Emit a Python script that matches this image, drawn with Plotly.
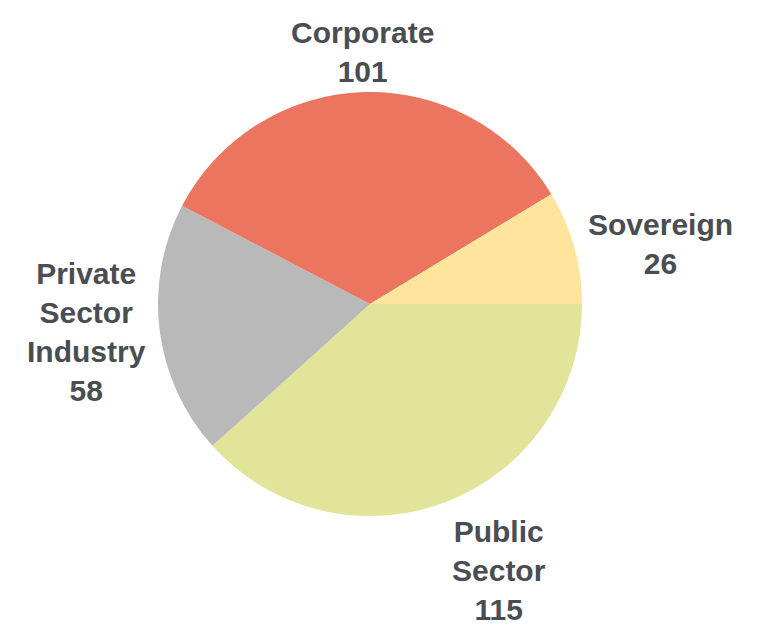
import math
import plotly.graph_objects as go

labels = ["Public<br>Sector", "Private<br>Sector<br>Industry", "Corporate", "Sovereign"]
values = [115, 58, 101, 26]
colors = ["#E2E49A", "#B9B9B9", "#EB755F", "#FEE59B"]

W, H = 765, 632
dom_x = [150 / W, 574 / W]
dom_y = [124 / H, 548 / H]
radius_px = (dom_x[1] - dom_x[0]) * W / 2
gap_px = 12
font_size = 30
font = dict(family="Liberation Sans", size=font_size, color="#4A4D52", weight="bold")

fig = go.Figure(go.Pie(
    labels=labels,
    values=values,
    sort=False,
    direction="clockwise",
    rotation=90,
    marker=dict(colors=colors, line=dict(width=0)),
    textinfo="none",
    domain=dict(x=dom_x, y=dom_y),
    showlegend=False,
    hoverinfo="label+value",
))

# outside-end labels, placed from each slice's mid-angle
cx = (dom_x[0] + dom_x[1]) / 2 * W
cy = (dom_y[0] + dom_y[1]) / 2 * H
total = sum(values)
cum = 0
annotations = []
for lab, v in zip(labels, values):
    mid = -(cum + v / 2) / total * 2 * math.pi
    cum += v
    c, s = math.cos(mid), math.sin(mid)
    r = radius_px + gap_px
    xa = "left" if c > 0.3 else ("right" if c < -0.3 else "center")
    ya = "bottom" if s > 0.3 else ("top" if s < -0.3 else "middle")
    x_px = cx + r * c
    y_px = cy + r * s
    text = f"{lab}<br>{v}"
    if ya == "bottom":
        # keep the whole label box inside the figure
        box_h = (text.count("<br>") + 1) * font_size * 1.3 + 4
        y_px = min(y_px, H - box_h)
    annotations.append(dict(
        x=x_px / W, y=y_px / H, xref="paper", yref="paper",
        text=text, showarrow=False, xanchor=xa, yanchor=ya,
        align="center", font=font,
    ))

fig.update_layout(
    width=W, height=H,
    margin=dict(l=0, r=0, t=0, b=0),
    paper_bgcolor="white",
    plot_bgcolor="white",
    font=dict(family="Liberation Sans", color="#4A4D52"),
    annotations=annotations,
)
fig.write_html("out.html")
